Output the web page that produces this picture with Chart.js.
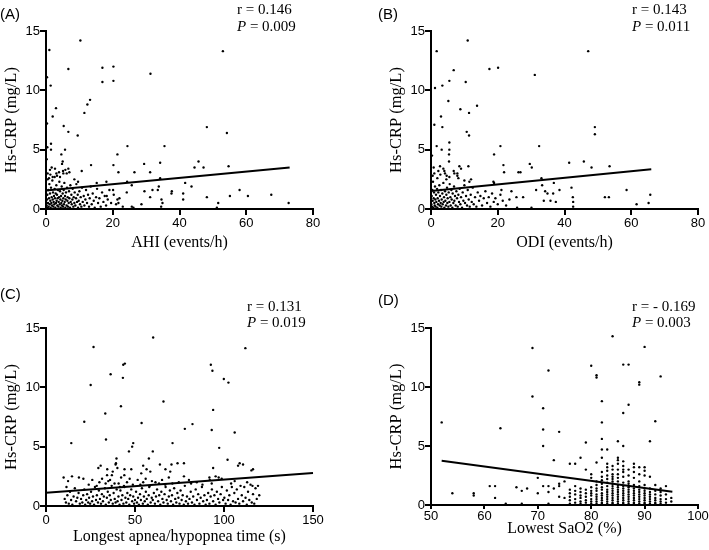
<!DOCTYPE html>
<html><head><meta charset="utf-8">
<script src="https://cdn.jsdelivr.net/npm/chart.js@4.4.1/dist/chart.umd.min.js"></script>
<style>
html,body{margin:0;padding:0;background:#fff;width:709px;height:550px;overflow:hidden}
canvas{position:absolute}
</style></head><body>
<canvas id="cA" width="354" height="275" style="left:0;top:0"></canvas>
<canvas id="cB" width="354" height="275" style="left:355px;top:0"></canvas>
<canvas id="cC" width="354" height="275" style="left:0;top:275px"></canvas>
<canvas id="cD" width="354" height="275" style="left:355px;top:275px"></canvas>
<script>
// ---------- DATA ----------
const yTicks = [0, 5, 10, 15];
const xTicksA = [0, 20, 40, 60, 80];
const xTicksB = [0, 20, 40, 60, 80];
const xTicksC = [0, 50, 100, 150];
const xTicksD = [50, 60, 70, 80, 90, 100];

const titlesX = ["AHI (events/h)", "ODI (events/h)", "Longest apnea/hypopnea time (s)", "Lowest SaO2 (%)"];
const titleY = "Hs-CRP (mg/L)";
const panelLabels = ["(A)", "(B)", "(C)", "(D)"];
const rTexts = ["r = 0.146", "r = 0.143", "r = 0.131", "r = - 0.169"];
const pTexts = [" = 0.009", " = 0.011", " = 0.019", " = 0.003"];

// regression lines (endpoints)
const lineAX = [0, 73], lineAY = [1.55, 3.50];
const lineBX = [0, 66], lineBY = [1.52, 3.34];
const lineCX = [0, 150], lineCY = [1.12, 2.78];
const lineDX = [52, 95.2], lineDY = [3.75, 1.13];

// Panel A: AHI vs Hs-CRP
const ptsA = [
[1.0,13.4],[10.3,14.2],[6.7,11.8],[16.9,11.9],[20.2,12.0],[16.9,10.7],[20.2,10.8],[31.3,11.4],[53.0,13.3],[1.4,10.4],[0.3,11.1],[0.3,7.2],
[2.0,7.8],[3.0,8.5],[11.5,8.1],[12.4,8.8],[13.2,9.2],[5.3,7.0],[6.7,6.5],[9.5,6.2],[48.2,6.9],[54.2,6.4],[1.5,5.5],[1.5,5.0],[5.7,5.0],
[4.6,4.6],[24.4,5.3],[35.5,5.3],[21.4,4.6],[5.0,4.0],[20.2,3.7],[29.4,3.8],[34.2,3.9],[45.7,4.0],[44.5,3.5],[47.2,3.5],[54.7,3.6],[13.5,3.7],
[21.7,3.1],[26.5,3.1],[31.2,3.1],[10.7,3.2],[1.2,3.3],[1.7,3.5],[2.7,3.4],[6.7,3.4],[6.2,3.0],[5.2,3.0],[4.2,2.7],[24.3,2.3],[41.7,2.2],
[43.6,1.9],[33.8,1.9],[34.2,2.6],[15.2,2.2],[18.1,2.3],[25.7,2.0],[37.7,1.5],[37.6,1.3],[33.5,1.6],[31.9,1.6],[41.1,1.3],[41.1,0.8],[58.0,1.6],
[55.1,1.1],[60.5,1.1],[67.5,1.2],[48.2,1.0],[34.6,0.8],[34.9,0.5],[51.6,0.5],[51.2,0.1],[72.7,0.5],[21.4,0.8],[21.7,0.5],[24.2,1.4],[29.5,1.5],
[31.2,1.0],[28.6,0.4],[25.7,0.2],[26.2,0.1],[20.1,1.6],[18.2,1.1],[34.5,0.2],[4.8,3.8],[3.1,3.0],[3.9,3.1],[2.6,2.7],[5.1,3.2],[5.8,3.3],
[8.5,2.5],[0.5,2.5],[0.2,4.2],[0.4,5.2],[0.5,3.0],[0.9,2.6],[1.3,2.9],[2.0,2.7],[3.3,2.8],[7.0,3.1],[9.6,2.3],
[0.2,0.3],[0.3,0.8],[0.4,1.2],[0.5,0.1],[0.6,0.5],[0.7,1.6],[0.8,0.2],[0.9,0.9],[1.0,2.1],[1.1,0.4],[1.2,1.3],[1.3,0.7],[1.4,0.1],
[1.5,1.8],[1.6,0.5],[1.7,1.0],[1.8,0.3],[1.9,2.4],[2.0,0.8],[2.1,1.4],[2.2,0.2],[2.3,0.6],[2.4,1.1],[2.5,0.4],[2.6,1.7],[2.7,0.9],
[2.8,0.1],[2.9,1.3],[3.0,0.5],[3.1,2.0],[3.2,0.7],[3.3,1.2],[3.4,0.3],[3.5,0.9],[3.6,1.6],[3.7,0.2],[3.8,0.6],[3.9,1.0],[4.0,2.3],
[4.1,0.4],[4.2,1.5],[4.3,0.8],[4.4,0.1],[4.5,1.1],[4.6,0.5],[4.7,1.9],[4.8,0.3],[4.9,0.7],[5.0,1.3],[5.1,0.2],[5.2,0.9],[5.3,1.6],
[5.4,0.4],[5.5,2.2],[5.6,0.6],[5.7,1.1],[5.8,0.1],[5.9,0.8],[6.0,1.4],[6.2,0.3],[6.3,1.8],[6.4,0.7],[6.5,1.0],[6.6,0.2],[6.8,0.5],
[6.9,1.5],[7.0,0.9],[7.2,0.1],[7.3,2.0],[7.4,0.6],[7.6,1.2],[7.7,0.4],[7.9,0.8],[8.0,1.7],[8.2,0.2],[8.3,1.0],[8.5,0.5],[8.6,1.4],
[8.8,0.3],[9.0,0.9],[9.1,2.1],[9.3,0.6],[9.5,1.2],[9.6,0.1],[9.8,0.7],[10.0,1.5],[10.2,0.4],[10.4,1.0],[10.6,0.2],[10.8,1.8],[11.0,0.6],
[11.3,1.1],[11.5,0.3],[11.8,0.8],[12.0,1.6],[12.3,0.5],[12.6,1.2],[12.9,0.2],[13.1,0.9],[13.4,1.9],[13.7,0.4],[14.0,1.3],[14.3,0.7],
[14.6,0.1],[15.0,1.0],[15.3,1.7],[15.6,0.5],[16.0,0.9],[16.4,0.2],[16.8,1.4],[17.2,0.6],[17.6,1.1],[18.0,0.3],[18.5,0.8],[19.0,1.6],
[19.5,0.5],[20.3,1.2],[21.0,0.4],[22.0,0.9],[23.0,0.2]
];

// Panel B: ODI vs Hs-CRP
const ptsB = [
[1.7,13.3],[11.0,14.2],[6.8,11.7],[20.1,11.9],[17.5,11.8],[31.1,11.3],[47.1,13.3],[1.2,10.2],[3.4,10.4],[5.5,10.8],[10.4,10.7],[5.2,9.1],
[1.0,7.1],[3.0,7.8],[3.4,6.9],[8.8,8.4],[13.8,8.7],[11.4,8.1],[10.7,6.5],[11.4,6.2],[49.1,6.9],[49.1,6.3],[1.7,5.3],[5.5,5.6],[5.5,5.0],
[5.4,4.6],[3.2,5.0],[20.8,5.3],[32.4,5.3],[18.9,4.6],[5.4,4.0],[41.4,3.9],[45.8,4.0],[29.6,3.8],[30.2,3.5],[48.1,3.5],[53.5,3.6],[21.7,3.7],
[21.9,3.1],[26.2,3.1],[26.8,3.1],[11.2,3.6],[8.5,3.6],[7.9,3.0],[7.9,2.8],[6.8,3.2],[2.2,3.2],[2.7,3.6],[3.7,3.4],[4.2,3.0],[4.7,2.8],
[33.1,2.6],[36.8,2.2],[42.1,1.8],[38.5,1.6],[31.5,1.6],[34.2,1.5],[34.9,1.3],[36.6,1.3],[33.3,2.0],[58.6,1.6],[52.1,1.0],[53.3,1.0],[65.7,1.2],
[42.5,1.0],[42.6,0.6],[42.6,0.2],[33.8,0.7],[35.8,0.7],[37.4,0.6],[61.6,0.4],[65.2,0.5],[27.6,1.0],[25.6,1.0],[24.1,1.5],[30.1,0.1],[25.8,0.1],
[21.1,1.6],[0.5,2.8],[1.0,3.0],[1.9,2.6],[2.8,2.9],[4.0,3.2],[4.6,2.5],[5.5,2.7],[7.0,3.0],[8.2,2.6],[9.0,3.4],[10.0,2.4],[11.5,2.3],
[12.0,2.5],[0.3,4.5],[0.8,3.5],[18.7,2.3],[18.9,2.2],
[0.1,0.4],[0.2,1.1],[0.3,0.2],[0.4,1.6],[0.5,0.7],[0.6,2.3],[0.7,0.1],[0.8,0.9],[0.9,1.4],[1.0,0.5],[1.1,0.3],[1.2,1.9],[1.3,0.8],
[1.4,0.2],[1.5,1.2],[1.6,0.6],[1.8,1.7],[1.9,0.1],[2.0,0.9],[2.1,0.4],[2.2,1.4],[2.4,0.7],[2.5,2.0],[2.6,0.3],[2.7,1.1],[2.9,0.5],
[3.0,1.6],[3.1,0.2],[3.2,0.8],[3.4,1.3],[3.5,0.4],[3.7,2.2],[3.8,0.6],[3.9,1.0],[4.0,0.1],[4.2,1.5],[4.3,0.7],[4.5,0.3],[4.6,1.2],
[4.8,1.8],[4.9,0.5],[5.0,0.9],[5.2,0.2],[5.3,1.4],[5.5,0.6],[5.6,2.1],[5.8,1.0],[5.9,0.3],[6.1,1.6],[6.2,0.8],[6.4,0.1],[6.5,1.3],
[6.7,0.5],[6.9,1.9],[7.0,0.7],[7.2,1.1],[7.4,0.3],[7.6,1.5],[7.8,0.9],[8.0,0.2],[8.2,1.2],[8.4,0.6],[8.6,1.7],[8.8,0.4],[9.0,1.0],
[9.3,0.1],[9.5,1.4],[9.7,0.7],[10.0,2.0],[10.2,0.5],[10.5,1.1],[10.8,0.3],[11.0,1.6],[11.3,0.8],[11.6,0.2],[11.9,1.2],[12.2,0.6],
[12.5,1.8],[12.8,0.4],[13.2,1.0],[13.6,0.2],[14.0,1.4],[14.4,0.7],[14.8,1.1],[15.3,0.3],[15.8,0.9],[16.3,1.5],[16.8,0.5],[17.3,1.0],
[17.8,0.2],[18.3,1.3],[18.8,0.6],[19.3,0.9],[20.0,0.4],[20.8,1.2],[21.5,0.7],[22.5,0.3],[23.5,0.8]
];

// Panel C: longest apnea/hypopnea time vs Hs-CRP
const ptsC = [
[26.7,13.4],[60.2,14.2],[112.0,13.3],[25.1,10.2],[36.3,11.1],[43.4,11.9],[44.3,12.0],[43.2,10.8],[92.6,11.9],[93.5,11.4],[99.9,10.7],
[102.5,10.4],[42.1,8.4],[66.0,8.8],[93.9,8.1],[33.3,7.8],[21.5,7.1],[53.7,7.0],[82.3,6.9],[78.0,6.5],[93.1,6.4],[106.0,6.2],[14.2,5.3],
[33.7,5.6],[49.0,5.3],[48.4,5.0],[46.6,4.6],[60.0,4.6],[71.1,5.3],[97.3,4.9],[102.0,3.9],[39.6,4.0],[57.8,4.0],[54.6,3.4],[56.5,3.1],
[47.9,3.1],[44.1,3.1],[39.1,3.5],[34.4,3.1],[30.7,3.4],[29.4,3.2],[64.0,3.5],[70.5,3.5],[73.9,3.6],[67.1,3.1],[107.9,3.4],[108.8,3.6],
[110.7,3.5],[115.4,3.0],[116.3,3.1],[93.9,3.2],[39.3,3.6],[37.5,2.9],[40.1,3.2],[44.0,2.6],[53.5,2.75],[58.6,2.9],[69.8,2.9],[34.3,2.6],
[77.5,3.6],[9.9,2.4],[12.4,2.1],[14.6,2.5],[18.5,2.4],[11.5,1.6],
[10.5,0.6],[11.2,0.3],[12.0,0.9],[12.8,0.2],[13.5,1.2],[14.1,0.5],[14.8,0.1],[15.5,0.8],[16.2,1.5],[16.9,0.4],[17.6,0.7],[18.3,1.1],
[19.0,0.2],[19.7,0.6],[20.4,0.3],[20.9,0.9],[21.5,1.4],[22.0,0.1],[22.6,0.5],[23.1,1.0],[23.7,0.3],[24.2,0.7],[24.8,0.2],[25.3,1.2],
[25.9,0.4],[26.4,0.8],[27.0,0.1],[27.5,1.6],[28.1,0.5],[28.6,0.9],[29.2,0.3],[29.7,1.3],[21.0,2.3],[24.0,1.8],[26.0,2.2],[28.5,1.7],
[30.0,2.0],[30.3,0.6],[30.9,0.2],[31.4,1.0],[32.0,0.4],[32.5,0.8],[33.1,1.5],[33.6,0.1],[34.2,0.7],[34.7,1.2],[35.3,0.3],[35.8,0.9],
[36.4,0.5],[36.9,1.7],[37.5,0.2],[38.0,1.1],[38.6,0.6],[39.1,0.3],[39.7,1.4],[31.5,2.3],[33.5,1.9],[35.0,2.1],[37.0,2.6],[38.5,1.9],
[36.0,2.2],[40.2,0.4],[40.7,0.8],[41.3,0.1],[41.8,1.3],[42.4,0.5],[42.9,0.9],[43.5,0.2],[44.0,1.6],[44.6,0.7],[45.1,0.3],[45.7,1.1],
[46.2,0.6],[46.8,0.1],[47.3,0.9],[47.9,1.4],[48.4,0.4],[49.0,0.8],[49.5,0.2],[40.8,1.9],[42.2,2.4],[43.8,1.7],[45.5,2.0],[47.0,2.3],
[48.8,1.8],[41.5,1.6],[50.0,0.5],[50.6,1.2],[51.1,0.3],[51.7,0.7],[52.2,0.1],[52.8,1.0],[53.3,0.5],[53.9,1.5],[54.4,0.2],[55.0,0.8],
[55.5,0.4],[56.1,1.2],[56.6,0.6],[57.2,0.1],[57.7,0.9],[58.3,1.7],[58.8,0.3],[59.4,0.7],[51.5,2.2],[53.0,1.8],[54.6,2.0],[56.0,2.3],
[58.0,1.6],[59.5,2.1],[60.0,0.5],[60.6,1.1],[61.2,0.2],[61.8,0.8],[62.4,1.4],[63.0,0.4],[63.6,0.9],[64.2,0.1],[64.8,1.2],[65.4,0.6],
[66.0,0.3],[66.6,1.0],[67.2,1.6],[67.8,0.5],[68.4,0.2],[69.0,0.8],[69.6,1.3],[61.5,2.0],[63.5,1.9],[65.2,2.2],[67.0,1.8],[69.0,2.4],
[70.2,0.4],[70.8,0.9],[71.4,0.1],[72.0,1.5],[72.6,0.6],[73.2,0.3],[73.8,1.1],[74.4,0.7],[75.0,0.2],[75.6,1.3],[76.2,0.5],[76.8,0.9],
[77.4,0.1],[78.0,1.7],[78.6,0.4],[79.2,0.8],[79.8,0.2],[71.0,1.9],[74.6,2.0],[77.5,2.5],[80.3,2.2],[80.6,0.6],[81.3,1.2],[82.0,0.3],
[82.7,0.8],[83.4,0.1],[84.1,1.4],[84.8,0.5],[85.5,1.0],[86.2,0.2],[86.9,0.7],[87.6,1.6],[88.3,0.4],[89.0,0.9],[89.7,0.1],[84.7,2.0],
[87.9,1.8],[81.5,1.9],[90.4,0.5],[91.1,1.1],[91.8,0.2],[92.5,0.8],[93.2,1.4],[93.9,0.4],[94.6,0.9],[95.3,0.1],[96.0,1.2],[96.7,0.6],
[97.4,0.3],[98.1,1.0],[98.8,1.6],[99.5,0.5],[91.8,2.4],[95.3,2.5],[98.7,2.3],[93.1,1.9],[92.0,2.2],[97.0,2.4],[100.2,0.7],[100.9,0.2],
[101.6,1.3],[102.3,0.5],[103.0,0.9],[103.7,0.1],[104.4,1.6],[105.1,0.4],[105.8,1.1],[106.5,0.3],[107.2,1.4],[107.9,0.6],[108.6,0.2],
[109.3,1.7],[104.0,1.9],[106.0,2.1],[110.0,0.9],[110.7,0.4],[111.4,1.6],[112.1,0.7],[112.8,0.1],[113.5,1.2],[114.2,0.5],[114.9,1.8],
[115.6,0.3],[116.3,1.0],[117.0,0.2],[117.7,1.5],[118.4,0.6],[119.1,1.7],[119.8,0.9],[113.0,2.0],[116.0,1.7]
];

// Panel D: lowest SaO2 vs Hs-CRP (integer SaO2 values)
const ptsD = [
[52,7.0],[54,1.0],[58,1.0],[58,0.8],[63,6.5],[61,1.6],[62,1.6],[62,0.6],[64,0.1],[66,1.5],[67,1.2],[68,1.4],[67,0.1],[69,13.3],[69,9.2],
[70,2.3],[70,1.0],[71,8.2],[71,6.4],[71,5.0],[72,11.4],[71,1.6],[72,1.6],[72,1.1],[72,0.1],[73,3.8],[74,6.2],[74,1.6],[74,0.7],[75,2.0],
[75,0.6],[73,1.4],[74,1.8],[76,3.5],[77,3.5],[78,4.0],[79,5.3],[80,11.8],[81,11.0],[81,10.8],[82,8.8],[82,7.0],[82,5.6],[82,4.7],[83,4.7],
[82,4.0],[84,14.3],[86,11.9],[87,11.9],[86,7.8],[87,8.5],[86,5.0],[85,5.4],[90,13.4],[89,10.4],[89,10.2],[93,10.9],[92,7.1],[91,5.4],
[76,0.1],[76,0.4],[76,0.7],[76,1.0],[76,1.3],
[77,0.2],[77,0.5],[77,0.9],[77,1.2],[77,1.6],
[78,0.1],[78,0.3],[78,0.6],[78,0.8],[78,1.1],[78,1.4],
[79,0.2],[79,0.4],[79,0.7],[79,1.0],[79,1.3],[79,3.0],
[80,0.1],[80,0.3],[80,0.5],[80,0.8],[80,1.0],[80,1.2],[80,1.5],[80,2.3],[80,2.6],
[81,0.1],[81,0.3],[81,0.5],[81,0.7],[81,0.9],[81,1.2],[81,1.4],[81,1.7],[81,2.0],[81,3.6],
[82,0.1],[82,0.2],[82,0.4],[82,0.6],[82,0.8],[82,1.0],[82,1.3],[82,1.5],[82,1.8],[82,2.1],[82,2.4],[82,2.8],
[83,0.1],[83,0.3],[83,0.5],[83,0.7],[83,0.9],[83,1.1],[83,1.3],[83,1.6],[83,1.9],[83,2.2],[83,2.5],[83,2.9],[83,3.2],[83,3.5],
[84,0.1],[84,0.2],[84,0.4],[84,0.6],[84,0.8],[84,1.0],[84,1.2],[84,1.4],[84,1.6],[84,1.8],[84,2.0],[84,2.2],[84,2.4],[84,2.6],[84,3.0],[84,3.3],
[85,0.1],[85,0.3],[85,0.5],[85,0.7],[85,0.9],[85,1.1],[85,1.3],[85,1.5],[85,1.7],[85,2.0],[85,2.3],[85,2.6],[85,3.0],[85,3.5],[85,3.8],[85,4.0],
[86,0.1],[86,0.2],[86,0.4],[86,0.6],[86,0.8],[86,1.0],[86,1.2],[86,1.4],[86,1.6],[86,1.9],[86,2.4],[86,2.8],[86,3.0],[86,3.3],[86,3.7],
[87,0.1],[87,0.3],[87,0.5],[87,0.7],[87,0.9],[87,1.1],[87,1.3],[87,1.5],[87,1.8],[87,2.0],[87,2.5],[87,3.0],
[88,0.1],[88,0.2],[88,0.4],[88,0.6],[88,0.8],[88,1.0],[88,1.2],[88,1.4],[88,1.7],[88,2.3],[88,2.8],[88,3.2],[88,3.5],
[89,0.1],[89,0.3],[89,0.5],[89,0.7],[89,0.9],[89,1.1],[89,1.3],[89,1.6],[89,2.0],[89,2.6],[89,3.2],
[90,0.1],[90,0.2],[90,0.4],[90,0.6],[90,0.8],[90,1.0],[90,1.2],[90,1.4],[90,1.7],[90,2.5],[90,2.9],[90,3.2],
[91,0.1],[91,0.3],[91,0.5],[91,0.7],[91,0.9],[91,1.1],[91,1.4],[91,2.4],
[92,0.1],[92,0.2],[92,0.4],[92,0.6],[92,0.9],[92,1.2],[92,1.7],
[93,0.1],[93,0.3],[93,0.5],[93,0.8],[93,1.1],[93,1.4],
[94,0.2],[94,0.5],[94,0.9],[94,1.6],
[95,0.3],[95,0.6]
];

// ---------- RENDER ----------
const SANS = '"Liberation Sans", Arial, sans-serif';
const SERIF = '"Liberation Serif", "Times New Roman", serif';

function toXY(pairs) { return pairs.map(p => ({x: p[0], y: p[1]})); }
function zipXY(xs, ys) { return xs.map((x, i) => ({x: x, y: ys[i]})); }

function panel(id, idx, pts, lx, ly, xTicks, L) {
  const annot = {
    id: 'annot' + idx,
    afterDraw(chart) {
      const ctx = chart.ctx;
      ctx.save();
      ctx.fillStyle = '#000';
      ctx.textBaseline = 'alphabetic';
      ctx.textAlign = 'left';
      ctx.font = '15px ' + SANS;
      ctx.fillText(panelLabels[idx], L.labX, L.labY);
      ctx.font = '15px ' + SERIF;
      ctx.fillText(rTexts[idx], L.annX, L.rY);
      ctx.font = 'italic 15px ' + SERIF;
      ctx.fillText('P', L.annX, L.pY);
      const w = ctx.measureText('P').width;
      ctx.font = '15px ' + SERIF;
      ctx.fillText(pTexts[idx], L.annX + w, L.pY);
      ctx.restore();
    }
  };
  const xMin = xTicks[0], xMax = xTicks[xTicks.length - 1];
  new Chart(document.getElementById(id), {
    type: 'scatter',
    data: {
      datasets: [
        { data: toXY(pts), pointRadius: 1.2, pointHoverRadius: 1.2, pointBackgroundColor: '#000',
          pointBorderWidth: 0, showLine: false, clip: false, order: 2 },
        { data: zipXY(lx, ly), showLine: true, borderColor: '#000', borderWidth: 2, pointRadius: 0,
          fill: false, clip: false, order: 1 }
      ]
    },
    options: {
      responsive: false, animation: false, events: [],
      layout: { padding: { left: L.padL, right: L.padR, top: L.padT, bottom: 0 } },
      plugins: { legend: { display: false }, tooltip: { enabled: false } },
      scales: {
        x: {
          type: 'linear', min: xMin, max: xMax,
          afterBuildTicks: s => { s.ticks = xTicks.map(v => ({value: v})); },
          afterFit: s => { s.height = L.xH; },
          ticks: { color: '#000', font: { family: SANS, size: 13 }, padding: L.xTickPad, maxRotation: 0, autoSkip: false },
          grid: { display: true, drawOnChartArea: false, drawTicks: true, tickLength: L.xTickLen, color: '#000', lineWidth: 2 },
          border: { display: true, color: '#000', width: 2 },
          title: { display: true, text: titlesX[idx], color: '#000', font: { family: SERIF, size: 16 },
                   padding: { top: 0, bottom: L.xTitlePad } }
        },
        y: {
          type: 'linear', min: 0, max: 15,
          afterBuildTicks: s => { s.ticks = yTicks.map(v => ({value: v})); },
          afterFit: s => { s.width = 46; },
          ticks: { color: '#000', font: { family: SANS, size: 13 }, padding: 0 },
          grid: { display: true, drawOnChartArea: false, drawTicks: true, tickLength: 6, color: '#000', lineWidth: 2 },
          border: { display: true, color: '#000', width: 2 },
          title: { display: true, text: titleY, color: '#000', font: { family: SERIF, size: 16.5 },
                   padding: { top: 2, bottom: 0 } }
        }
      }
    },
    plugins: [annot]
  });
}

panel('cA', 0, ptsA, lineAX, lineAY, xTicksA,
  { padL: 0, padR: 41, padT: 31, xH: 66, xTickPad: 1, xTickLen: 6, xTitlePad: 22.4,
    labX: 0, labY: 19, annX: 237, rY: 14, pY: 30.7 });
panel('cB', 1, ptsB, lineBX, lineBY, xTicksB,
  { padL: 30, padR: 11, padT: 31, xH: 66, xTickPad: 1, xTickLen: 6, xTitlePad: 22.9,
    labX: 23, labY: 19, annX: 277, rY: 14, pY: 30.7 });
panel('cC', 2, ptsC, lineCX, lineCY, xTicksC,
  { padL: 0, padR: 41, padT: 53, xH: 44, xTickPad: 1, xTickLen: 6, xTitlePad: 3.5,
    labX: 0, labY: 24, annX: 247, rY: 35.7, pY: 52.3 });
panel('cD', 3, ptsD, lineDX, lineDY, xTicksD,
  { padL: 30, padR: 11, padT: 53, xH: 45, xTickPad: 0, xTickLen: 4, xTitlePad: 11.9,
    labX: 23, labY: 30, annX: 277, rY: 35.7, pY: 51.7 });
</script>
</body></html>
